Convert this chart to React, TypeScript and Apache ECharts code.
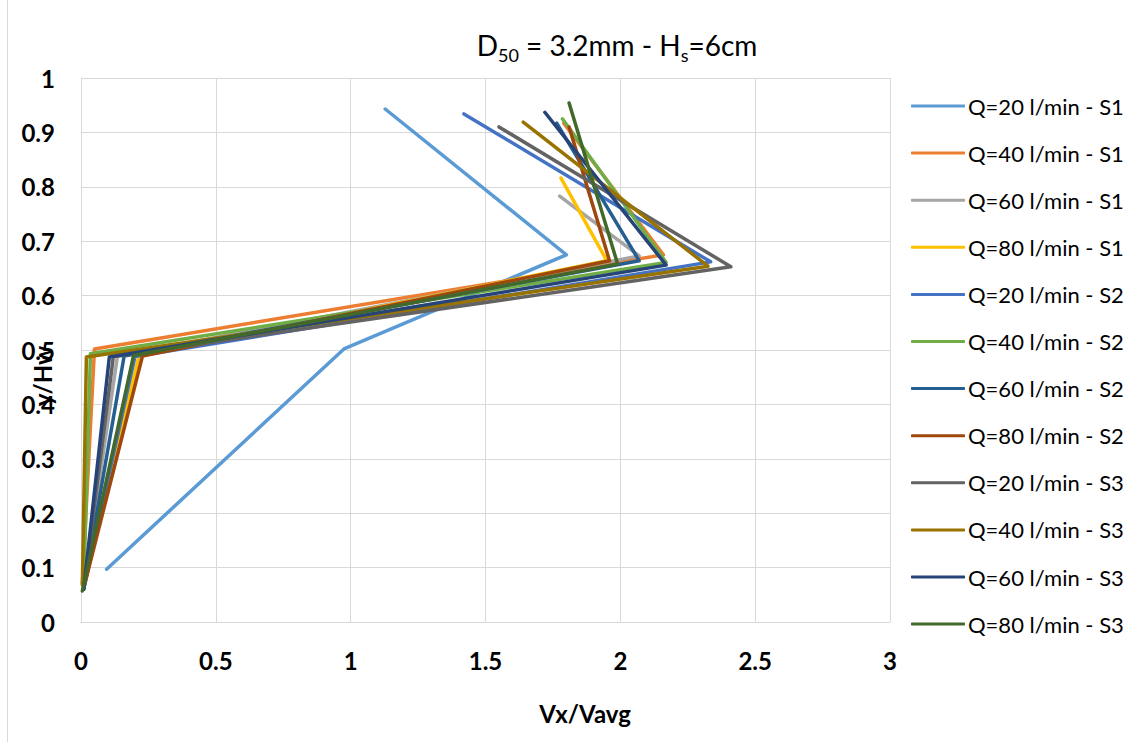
import React, { useEffect, useRef } from "react";
import * as echarts from "echarts";

// Velocity profiles: Vx/Vavg (x) against relative depth y/Hw (y)
const seriesNames = [
  "Q=20 l/min - S1",
  "Q=40 l/min - S1",
  "Q=60 l/min - S1",
  "Q=80 l/min - S1",
  "Q=20 l/min - S2",
  "Q=40 l/min - S2",
  "Q=60 l/min - S2",
  "Q=80 l/min - S2",
  "Q=20 l/min - S3",
  "Q=40 l/min - S3",
  "Q=60 l/min - S3",
  "Q=80 l/min - S3",
];

const seriesColors = [
  "#5B9BD5",
  "#ED7D31",
  "#A5A5A5",
  "#FFC000",
  "#4472C4",
  "#70AD47",
  "#255E91",
  "#9E480E",
  "#636363",
  "#997300",
  "#264478",
  "#43682B",
];

// Vx/Vavg at each measuring point, one row per series
const vxValues = [
  [0.095, 0.975, 1.8, 1.128],
  [0.005, 0.05, 2.16, 1.79],
  [0.01, 0.135, 2.07, 1.775],
  [0.01, 0.215, 1.95, 1.78],
  [0.01, 0.2, 2.335, 1.42],
  [0.01, 0.035, 2.17, 1.785],
  [0.01, 0.16, 2.07, 1.764],
  [0.01, 0.228, 1.96, 1.81],
  [0.01, 0.12, 2.41, 1.55],
  [0.005, 0.02, 2.325, 1.64],
  [0.01, 0.105, 2.17, 1.72],
  [0.005, 0.195, 1.99, 1.81],
];

// y/Hw at each measuring point, one row per series
const depthValues = [
  [0.097, 0.502, 0.675, 0.943],
  [0.07, 0.502, 0.675, 0.917],
  [0.065, 0.488, 0.673, 0.783],
  [0.065, 0.489, 0.664, 0.816],
  [0.06, 0.488, 0.662, 0.934],
  [0.065, 0.493, 0.661, 0.925],
  [0.062, 0.489, 0.664, 0.917],
  [0.062, 0.489, 0.664, 0.91],
  [0.06, 0.488, 0.653, 0.91],
  [0.068, 0.487, 0.654, 0.919],
  [0.06, 0.487, 0.656, 0.937],
  [0.057, 0.49, 0.658, 0.954],
];

const xTickStep = 0.5;
const yTickStep = 0.1;

// Title pieces: [text, isSubscript]
const titleParts: [string, boolean][] = [
  ["D", false],
  ["50", true],
  [" = 3.2mm - H", false],
  ["s", true],
  ["=6cm", false],
];

const FONT = "Lato, 'Open Sans', sans-serif";
const TITLE_SIZE = 28;
const SUB_SIZE = 18;

function measure(text: string, size: number): number {
  const ctx = document.createElement("canvas").getContext("2d");
  if (!ctx) return text.length * size * 0.5;
  ctx.font = `${size}px ${FONT}`;
  return ctx.measureText(text).width;
}

function buildTitle(centerX: number, centerY: number) {
  const widths = titleParts.map(([t, sub]) => measure(t, sub ? SUB_SIZE : TITLE_SIZE));
  const total = widths.reduce((a, b) => a + b, 0);
  let x = centerX - total / 2;
  return titleParts.map(([t, sub], i) => {
    const el = {
      type: "text",
      x,
      y: sub ? centerY + 10 : centerY,
      silent: true,
      style: {
        text: t,
        align: "left",
        verticalAlign: "middle",
        fontFamily: FONT,
        fontSize: sub ? SUB_SIZE : TITLE_SIZE,
        fill: "#000",
      },
    };
    x += widths[i];
    return el;
  });
}

export default function App() {
  const ref = useRef<HTMLDivElement>(null);

  useEffect(() => {
    if (!ref.current) return;
    const chart = echarts.init(ref.current, undefined, { renderer: "svg" });

    const series = seriesNames.map((name, i) => ({
      name,
      type: "line",
      data: vxValues[i].map((x, j) => [x, depthValues[i][j]]),
      symbol: "none",
      lineStyle: { width: 3.5, color: seriesColors[i], cap: "round", join: "round" },
      itemStyle: { color: seriesColors[i] },
    }));

    const fmt = (v: number) => String(Math.round(v * 10) / 10);

    chart.setOption({
      animation: false,
      backgroundColor: "#ffffff",
      textStyle: { fontFamily: FONT },
      grid: { left: 81, right: 248, top: 78, bottom: 120, containLabel: false },
      xAxis: {
        type: "value",
        min: 0,
        max: 3,
        interval: xTickStep,
        axisLine: { show: true, lineStyle: { color: "#d9d9d9", width: 1 } },
        axisTick: { show: false },
        splitLine: { show: true, lineStyle: { color: "#d9d9d9", width: 1 } },
        axisLabel: {
          formatter: fmt,
          fontFamily: FONT,
          fontSize: 24,
          fontWeight: "bold",
          color: "#000",
          margin: 26,
        },
      },
      yAxis: {
        type: "value",
        min: 0,
        max: 1,
        interval: yTickStep,
        axisLine: { show: true, lineStyle: { color: "#d9d9d9", width: 1 } },
        axisTick: { show: false },
        splitLine: { show: true, lineStyle: { color: "#d9d9d9", width: 1 } },
        axisLabel: {
          formatter: fmt,
          fontFamily: FONT,
          fontSize: 24,
          fontWeight: "bold",
          color: "#000",
          margin: 26,
        },
      },
      legend: {
        orient: "vertical",
        left: 906,
        top: 90,
        itemWidth: 54,
        itemHeight: 3,
        itemGap: 25.1,
        icon: "roundRect",
        textStyle: { fontFamily: FONT, fontSize: 22, lineHeight: 22, color: "#000", padding: [0, 0, 0, -2] },
        data: seriesNames,
      },
      graphic: [
        {
          type: "line",
          shape: { x1: 7.5, y1: 0, x2: 7.5, y2: 742 },
          style: { stroke: "#d9d9d9", lineWidth: 1 },
          silent: true,
        },
        ...buildTitle(617, 45),
        {
          type: "text",
          x: 585,
          y: 713,
          style: {
            text: "Vx/Vavg",
            align: "center",
            verticalAlign: "middle",
            fontFamily: FONT,
            fontSize: 24,
            fontWeight: "bold",
            fill: "#000",
          },
        },
        {
          type: "text",
          x: 42,
          y: 376,
          rotation: Math.PI / 2,
          style: {
            text: "y/Hw",
            align: "center",
            verticalAlign: "middle",
            fontFamily: FONT,
            fontSize: 24,
            fontWeight: "bold",
            fill: "#000",
          },
        },
      ],
      series,
    });

    return () => chart.dispose();
  }, []);

  return (
    <div
      ref={ref}
      style={{ position: "fixed", left: 0, top: 0, width: 1138, height: 742 }}
    />
  );
}
